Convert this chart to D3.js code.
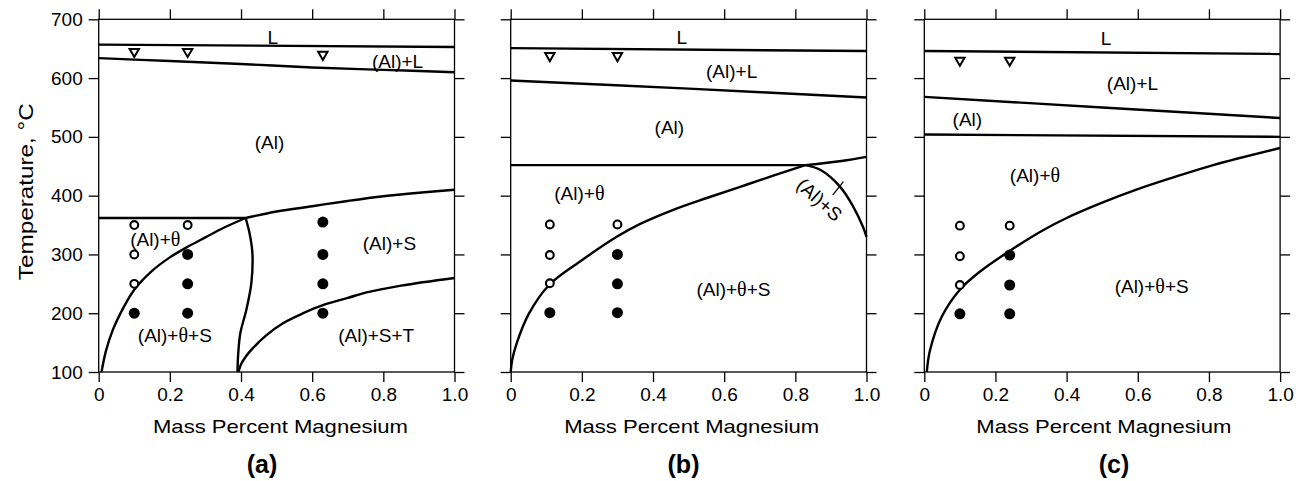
<!DOCTYPE html>
<html>
<head>
<meta charset="utf-8">
<script src="https://cdn.jsdelivr.net/npm/d3@7"></script>
<style>
  html, body { margin: 0; padding: 0; background: #fff; }
  svg { display: block; }
  text { font-family: "Liberation Sans", Arial, Helvetica, sans-serif; fill: #000; }
</style>
</head>
<body>
<svg id="chart" width="1301" height="481"></svg>
<script>
// ---------------- DATA ----------------
const xTicks = [0, 0.2, 0.4, 0.6, 0.8, 1.0];
const yTicks = [100, 200, 300, 400, 500, 600, 700];
const panelNames = ["(a)", "(b)", "(c)"];
const xTitle = "Mass Percent Magnesium";
const yTitle = "Temperature, °C";

// Panel (a) boundaries [mass % Mg, °C]
const aLiquidus = [[0, 657], [1, 653]];
const aSolidus = [[0, 634], [0.2, 629], [0.4, 624], [0.6, 618], [0.8, 614], [1, 610]];
const aEutectic = [[0, 362], [0.413, 362]];
const aSolvusS = [[0.413, 362], [0.5, 373], [0.6, 382], [0.7, 391], [0.8, 399], [0.9, 405], [1, 410]];
const aSolvusTheta = [[0.008, 100], [0.02, 135], [0.04, 172], [0.07, 210], [0.1, 240], [0.15, 272], [0.2, 295], [0.25, 313], [0.3, 329], [0.35, 345], [0.413, 362]];
const aThetaS = [[0.413, 362], [0.424, 336], [0.432, 302], [0.429, 251], [0.415, 206], [0.398, 166], [0.392, 130], [0.39, 100]];
const aSTBoundary = [[0.393, 100], [0.4, 113], [0.413, 126], [0.434, 141], [0.47, 162], [0.518, 183], [0.575, 200], [0.632, 214], [0.7, 226], [0.75, 235], [0.85, 247], [1.0, 260]];
const aTriangles = [[0.1, 645], [0.25, 645], [0.63, 640]];
const aOpen = [[0.1, 350], [0.1, 300], [0.1, 250], [0.25, 350]];
const aFilled = [[0.1, 200], [0.25, 300], [0.25, 250], [0.25, 200], [0.63, 355], [0.63, 300], [0.63, 250], [0.63, 200]];
const aLabels = [["L", 0.489, 670], ["(Al)+L", 0.84, 629], ["(Al)", 0.48, 490], ["(Al)+θ", 0.159, 326], ["(Al)+S", 0.817, 319], ["(Al)+θ+S", 0.214, 163], ["(Al)+S+T", 0.78, 163]];

// Panel (b)
const bLiquidus = [[0, 651], [1, 646]];
const bSolidus = [[0, 596], [0.5, 582], [1, 567]];
const bEutectic = [[0, 452], [0.828, 452]];
const bSolvusS = [[0.828, 452], [0.93, 459], [1, 466]];
const bSolvusTheta = [[0, 100], [0.004, 120], [0.017, 149], [0.05, 198], [0.108, 248], [0.195, 288], [0.298, 330], [0.364, 352], [0.457, 376], [0.551, 396], [0.645, 415], [0.738, 434], [0.828, 452]];
const bThetaS = [[0.828, 452], [0.87, 444], [0.926, 415], [0.963, 381], [0.99, 347], [1.0, 330]];
const bPointer = [[0.905, 401], [0.935, 424]];
const bTriangles = [[0.11, 638], [0.30, 638]];
const bOpen = [[0.11, 351], [0.11, 299], [0.11, 251], [0.30, 351]];
const bFilled = [[0.11, 201], [0.30, 300], [0.30, 250], [0.30, 201]];
const bLabels = [["L", 0.481, 670], ["(Al)+L", 0.621, 611], ["(Al)", 0.446, 516], ["(Al)+θ", 0.193, 404], ["(Al)+θ+S", 0.626, 241]];
const bRotLabel = ["(Al)+S", 0.868, 393, 42];

// Panel (c)
const cLiquidus = [[0, 646], [1, 641]];
const cSolidus = [[0, 568], [0.5, 550], [1, 532]];
const cSolvusAl = [[0, 504], [1, 500]];
const cSolvusTheta = [[0.007, 100], [0.016, 137], [0.049, 194], [0.1, 240], [0.157, 271], [0.25, 310], [0.33, 340], [0.4, 362], [0.5, 388], [0.6, 411], [0.7, 431], [0.812, 452], [1, 481]];
const cTriangles = [[0.1, 630], [0.24, 630]];
const cOpen = [[0.1, 349], [0.1, 297], [0.1, 248], [0.24, 349]];
const cFilled = [[0.1, 199], [0.24, 299], [0.24, 248], [0.24, 199]];
const cLabels = [["L", 0.511, 668], ["(Al)+L", 0.585, 591], ["(Al)", 0.121, 530], ["(Al)+θ", 0.311, 435], ["(Al)+θ+S", 0.639, 245]];

// ---------------- LAYOUT ----------------
const panels = [
  { left: 98.7, lines: [aLiquidus, aSolidus, aEutectic, aSolvusS, aSolvusTheta, aThetaS, aSTBoundary], thin: [],
    tri: aTriangles, open: aOpen, filled: aFilled, labels: aLabels, rot: null, yLabels: true, nameX: 262, titleX: 280.5 },
  { left: 510.7, lines: [bLiquidus, bSolidus, bEutectic, bSolvusS, bSolvusTheta, bThetaS], thin: [bPointer],
    tri: bTriangles, open: bOpen, filled: bFilled, labels: bLabels, rot: bRotLabel, yLabels: false, nameX: 683.5, titleX: 691.7 },
  { left: 924.3, lines: [cLiquidus, cSolidus, cSolvusAl, cSolvusTheta], thin: [],
    tri: cTriangles, open: cOpen, filled: cFilled, labels: cLabels, rot: null, yLabels: false, nameX: 1114, titleX: 1103.8 }
];
const W = 355.8, TOP = 19.3, BOTTOM = 372;
const svg = d3.select("#chart");
const fmt = d => d === 0 ? "0" : d.toFixed(1);

function addLabel(g, str, xPos, yPos, rot) {
  const t = g.append("text")
    .attr("text-anchor", "middle")
    .attr("dy", "0.35em")
    .attr("font-size", 19)
    .attr("transform", `translate(${xPos},${yPos})` + (rot ? ` rotate(${rot})` : ""));
  const parts = str.split("θ");
  parts.forEach((p, i) => {
    if (i > 0) t.append("tspan").attr("font-family", "'Liberation Serif', 'DejaVu Serif', serif").attr("font-size", 20).text("θ");
    if (p) t.append("tspan").text(p);
  });
}

panels.forEach((p, idx) => {
  const x = d3.scaleLinear().domain([0, 1]).range([p.left, p.left + W]);
  const y = d3.scaleLinear().domain([100, 700]).range([BOTTOM, TOP]);
  const g = svg.append("g");

  const styleAxis = sel => {
    sel.selectAll(".domain").remove();
    sel.selectAll(".tick line").attr("stroke", "#000").attr("stroke-width", 1.3);
    sel.selectAll(".tick text").attr("font-size", 19).attr("font-family", "'Liberation Sans', Arial, sans-serif").attr("fill", "#000");
  };
  g.append("g").attr("transform", `translate(0,${BOTTOM})`)
    .call(d3.axisBottom(x).tickValues(xTicks).tickFormat(fmt).tickSize(10).tickPadding(6))
    .call(styleAxis);
  g.append("g").attr("transform", `translate(0,${TOP})`)
    .call(d3.axisTop(x).tickValues(xTicks).tickFormat("").tickSize(10))
    .call(styleAxis);
  g.append("g").attr("transform", `translate(${p.left},0)`)
    .call(d3.axisLeft(y).tickValues(yTicks).tickFormat(p.yLabels ? d3.format("d") : "").tickSize(10).tickPadding(6))
    .call(styleAxis);
  g.append("g").attr("transform", `translate(${p.left + W},0)`)
    .call(d3.axisRight(y).tickValues(yTicks).tickFormat("").tickSize(10))
    .call(styleAxis);
  g.append("rect").attr("x", p.left).attr("y", TOP).attr("width", W).attr("height", BOTTOM - TOP)
    .attr("fill", "none").attr("stroke", "#000").attr("stroke-width", 1.3);

  const line = d3.line().x(d => x(d[0])).y(d => y(d[1]));
  p.lines.forEach(pts => {
    g.append("path")
      .attr("d", line.curve(pts.length > 2 ? d3.curveCatmullRom.alpha(0.5) : d3.curveLinear)(pts))
      .attr("fill", "none").attr("stroke", "#000").attr("stroke-width", 2.4).attr("stroke-linejoin", "round");
  });
  p.thin.forEach(pts => {
    g.append("path").attr("d", line.curve(d3.curveLinear)(pts))
      .attr("fill", "none").attr("stroke", "#000").attr("stroke-width", 1.2);
  });

  const tri = d3.symbol().type(d3.symbolTriangle).size(38);
  g.selectAll(".tri").data(p.tri).join("path")
    .attr("d", tri).attr("transform", d => `translate(${x(d[0])},${y(d[1])}) rotate(180)`)
    .attr("fill", "#fff").attr("stroke", "#000").attr("stroke-width", 2);
  g.selectAll(".open").data(p.open).join("circle")
    .attr("cx", d => x(d[0])).attr("cy", d => y(d[1])).attr("r", 3.9)
    .attr("fill", "#fff").attr("stroke", "#000").attr("stroke-width", 2.1);
  g.selectAll(".filled").data(p.filled).join("circle")
    .attr("cx", d => x(d[0])).attr("cy", d => y(d[1])).attr("r", 5.5)
    .attr("fill", "#000");

  p.labels.forEach(l => addLabel(g, l[0], x(l[1]), y(l[2]), 0));
  if (p.rot) addLabel(g, p.rot[0], x(p.rot[1]), y(p.rot[2]), p.rot[3]);

  g.append("text").attr("x", p.titleX).attr("y", 433).attr("text-anchor", "middle")
    .attr("font-size", 19).attr("textLength", 255).attr("lengthAdjust", "spacingAndGlyphs").text(xTitle);
  g.append("text").attr("x", p.nameX).attr("y", 473).attr("text-anchor", "middle")
    .attr("font-size", 25).attr("font-weight", "bold").text(panelNames[idx]);
});

svg.append("text").attr("transform", "translate(33,191.7) rotate(-90)").attr("text-anchor", "middle")
  .attr("font-size", 21).attr("textLength", 177).attr("lengthAdjust", "spacingAndGlyphs").text(yTitle);
</script>
</body>
</html>
